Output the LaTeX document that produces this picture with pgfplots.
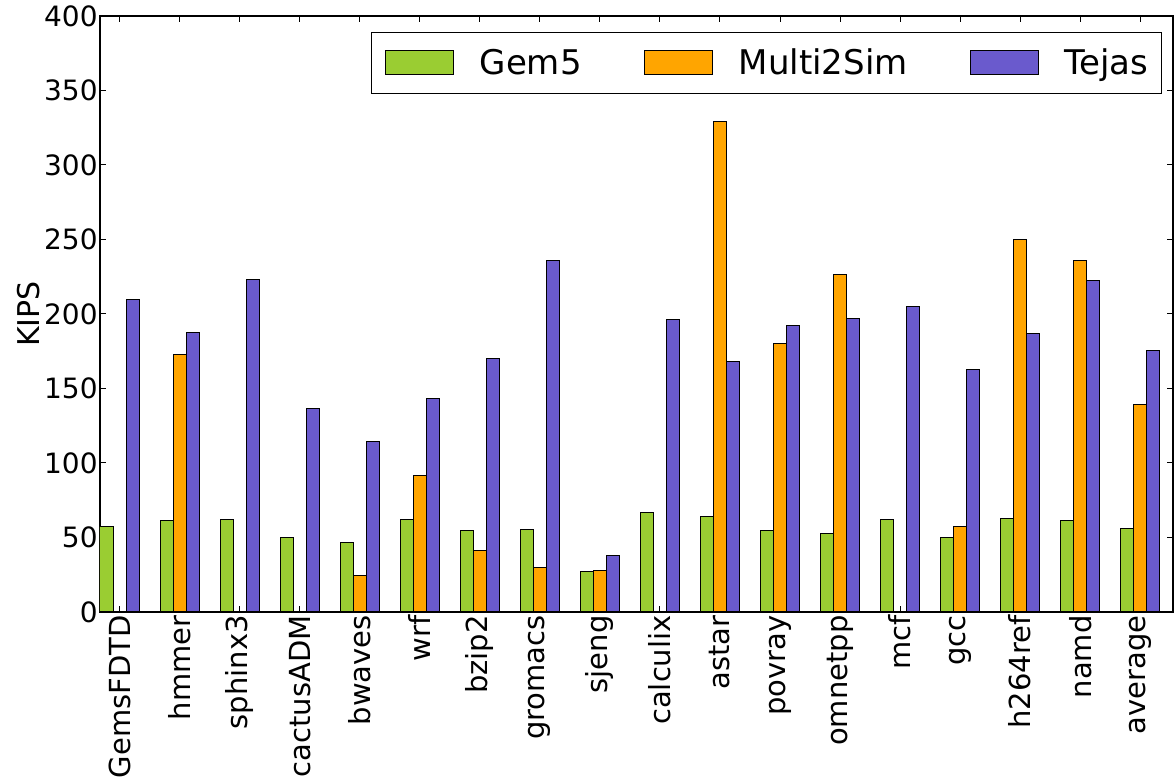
\documentclass[border=0pt]{standalone}
\usepackage{fontspec}
\setmainfont{DejaVu Sans}
\usepackage{pgfplots}
\usepackage{pgfplotstable}
\pgfplotsset{compat=1.18}
\definecolor{cg}{HTML}{9ACD32}
\definecolor{co}{HTML}{FFA500}
\definecolor{ct}{HTML}{6A5ACD}
\pgfplotstableread{
idx G M T
0 57.3 nan 209.4
1 61.5 172.7 187.5
2 62.2 nan 223.3
3 50.1 nan 136.4
4 46.5 24.8 114.6
5 62.4 91.7 143.6
6 54.8 41.4 170.3
7 55.5 30.2 236.0
8 27.5 28.0 37.8
9 67.1 nan 196.2
10 64.4 328.9 168.0
11 54.4 180.3 192.4
12 52.8 226.4 197.3
13 62.4 nan 204.9
14 50.1 57.5 162.6
15 62.6 250.3 186.6
16 61.7 235.8 222.3
17 56.2 139.1 175.8
}\datatable
\begin{document}
\begin{tikzpicture}
\begin{axis}[
  scale only axis, width=536.5pt, height=298pt,
  xmin=-0.325, xmax=17.545, ymin=0, ymax=400,
  ytick={0,50,...,400},
  xtick={0,...,17},
  xticklabels={GemsFDTD,hmmer,sphinx3,cactusADM,bwaves,wrf,bzip2,gromacs,sjeng,calculix,astar,povray,omnetpp,mcf,gcc,h264ref,namd,average},
  tick align=inside, major tick length=3pt,
  tick style={black, line width=0.5pt},
  axis line style={line width=0.6pt},
  /pgf/number format/assume math mode=true,
  ticklabel style={font=\fontsize{14}{16}\selectfont},
  yticklabel style={inner xsep=1pt},
  xticklabel style={rotate=90, anchor=east, inner xsep=1.5pt, font=\fontsize{14.5}{16}\selectfont},
  ylabel={KIPS}, ylabel style={font=\fontsize{15}{18}\selectfont, inner sep=1pt},
  legend columns=3,
  legend image code/.code={\draw[#1] (0pt,-6pt) rectangle (34pt,6pt);},
  legend style={at={(1,1)}, anchor=north east, xshift=-5.5pt, yshift=-8pt,
    draw=black, line width=0.5pt, font=\fontsize{17}{19}\selectfont,
    inner xsep=6.5pt, inner ysep=8pt, nodes={inner sep=0pt},
    /tikz/every odd column/.append style={column sep=13pt},
    /tikz/every even column/.append style={column sep=31pt}},
]
\addplot[ybar, bar width=0.2167, bar shift=-0.2167, fill=cg, draw=black, line width=0.5pt] table[x=idx, y=G] {\datatable};
\addlegendentry{Gem5}
\addplot[ybar, bar width=0.2167, bar shift=0, fill=co, draw=black, line width=0.5pt] table[x=idx, y=M] {\datatable};
\addlegendentry{Multi2Sim}
\addplot[ybar, bar width=0.2167, bar shift=0.2167, fill=ct, draw=black, line width=0.5pt] table[x=idx, y=T] {\datatable};
\addlegendentry{Tejas}
\end{axis}
\pgfresetboundingbox
\path (-50pt,-85pt) rectangle (537pt,306pt);
\end{tikzpicture}
\end{document}
